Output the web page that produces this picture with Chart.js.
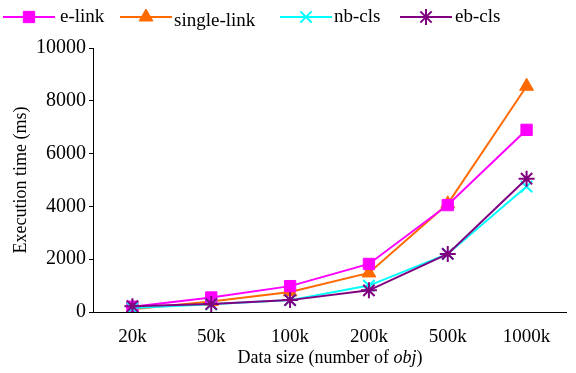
<!DOCTYPE html>
<html>
<head>
<meta charset="utf-8">
<script src="https://cdn.jsdelivr.net/npm/chart.js@4/dist/chart.umd.min.js"></script>
<style>
  html, body { margin: 0; padding: 0; background: #fff; }
  #wrap { width: 576px; height: 373px; position: relative; }
</style>
</head>
<body>
<div id="wrap"><canvas id="myChart" width="576" height="373"></canvas></div>
<script>
// datos
const sizes = ['20k', '50k', '100k', '200k', '500k', '1000k'];
const eLink = [200, 550, 980, 1820, 4050, 6900];
const singleLink = [100, 400, 760, 1480, 4100, 8550];
const nbCls = [150, 290, 450, 1000, 2200, 4750];
const ebCls = [220, 300, 450, 820, 2200, 5050];

const serif = '"Liberation Serif", "Times New Roman", serif';

// leyenda dibujada a mano: linea + marcador + texto
const legendPlugin = {
  id: 'topLegend',
  afterDraw(chart) {
    const c = chart.ctx;
    const items = [
      { x: 3, tx: 60, ds: chart.data.datasets[0] },
      { x: 120, tx: 174, ds: chart.data.datasets[1] },
      { x: 280, tx: 334, ds: chart.data.datasets[2] },
      { x: 400, tx: 455, ds: chart.data.datasets[3] }
    ];
    c.save();
    items.forEach(it => {
      const y = 17;
      c.strokeStyle = it.ds.borderColor;
      c.fillStyle = it.ds.backgroundColor;
      c.lineWidth = 2;
      c.beginPath();
      c.moveTo(it.x, y);
      c.lineTo(it.x + 52, y);
      c.stroke();
      c.lineWidth = it.ds.pointBorderWidth;
      Chart.helpers.drawPoint(c, {
        pointStyle: it.ds.pointStyle,
        radius: it.ds.pointRadius,
        borderWidth: it.ds.pointBorderWidth,
        rotation: 0
      }, it.x + 26, y);
      c.fillStyle = '#000';
      c.font = '19px ' + serif;
      c.textBaseline = 'middle';
      c.fillText(it.ds.label, it.tx, y + (it.ds.label === 'single-link' ? 4 : 0));
    });
    c.restore();
  }
};

// titulo del eje x con "obj" en cursiva
const xTitlePlugin = {
  id: 'xTitle',
  afterDraw(chart) {
    const c = chart.ctx;
    c.save();
    c.fillStyle = '#000';
    c.textBaseline = 'middle';
    const a = 'Data size (number of ';
    const b = 'obj';
    const d = ')';
    c.font = '18px ' + serif;
    const wa = c.measureText(a).width;
    const wd = c.measureText(d).width;
    c.font = 'italic 18px ' + serif;
    const wb = c.measureText(b).width;
    let x = 330 - (wa + wb + wd) / 2;
    const y = 358;
    c.font = '18px ' + serif;
    c.fillText(a, x, y);
    x += wa;
    c.font = 'italic 18px ' + serif;
    c.fillText(b, x, y);
    x += wb;
    c.font = '18px ' + serif;
    c.fillText(d, x, y);
    c.restore();
  }
};

const ctx = document.getElementById('myChart').getContext('2d');
const myChart = new Chart(ctx, {
  type: 'line',
  data: {
    labels: sizes,
    datasets: [
      {
        label: 'e-link', data: eLink, order: 3,
        borderColor: '#ff00ff', backgroundColor: '#ff00ff',
        pointStyle: 'rect', pointRadius: 8, pointBorderWidth: 1,
        borderWidth: 2
      },
      {
        label: 'single-link', data: singleLink, order: 4,
        borderColor: '#ff6a00', backgroundColor: '#ff6a00',
        pointStyle: 'triangle', pointRadius: 8, pointBorderWidth: 1,
        borderWidth: 2
      },
      {
        label: 'nb-cls', data: nbCls, order: 2,
        borderColor: '#00ffff', backgroundColor: '#00ffff',
        pointStyle: 'crossRot', pointRadius: 8, pointBorderWidth: 2,
        borderWidth: 2
      },
      {
        label: 'eb-cls', data: ebCls, order: 1,
        borderColor: '#800080', backgroundColor: '#800080',
        pointStyle: 'star', pointRadius: 8, pointBorderWidth: 2,
        borderWidth: 2
      }
    ]
  },
  options: {
    responsive: false,
    animation: false,
    devicePixelRatio: 1,
    layout: { padding: { top: 48, right: 6, bottom: 0, left: 0 } },
    plugins: {
      legend: { display: false },
      tooltip: { enabled: false }
    },
    scales: {
      x: {
        offset: true,
        grid: { display: false },
        border: { display: true, color: '#000', width: 1 },
        ticks: { color: '#000', font: { family: serif, size: 19 }, padding: 6, maxRotation: 0, autoSkip: false },
        afterFit(s) { s.height = 61; }
      },
      y: {
        min: 0, max: 10000,
        grid: { drawOnChartArea: false, color: '#000', tickLength: 4 },
        border: { display: true, color: '#000', width: 1 },
        ticks: { stepSize: 2000, color: '#000', font: { family: serif, size: 20 }, padding: 3, callback: v => String(v) },
        title: { display: true, text: 'Execution time (ms)', color: '#000', font: { family: serif, size: 18 }, padding: { top: 10, bottom: 0 } },
        afterFit(s) { s.width = 93; }
      }
    }
  },
  plugins: [legendPlugin, xTitlePlugin]
});
</script>
</body>
</html>
